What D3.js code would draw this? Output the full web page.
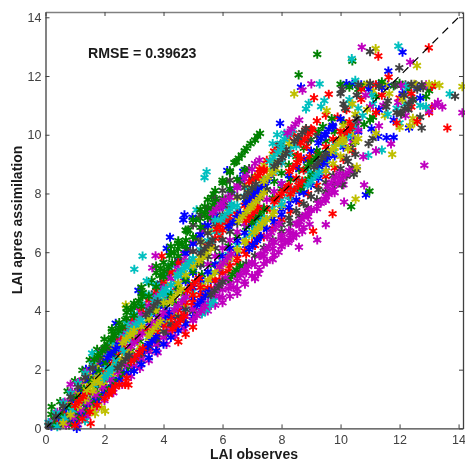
<!DOCTYPE html>
<html><head><meta charset="utf-8">
<script src="https://cdnjs.cloudflare.com/ajax/libs/d3/7.8.5/d3.min.js"></script>
<style>html,body{margin:0;padding:0;background:#fff}svg{display:block}</style>
</head><body><svg id="c" width="465" height="465"></svg>
<script>
// Values: outliers individually, the dense interior as estimated streaks and clumps.
const xTicks=[0,2,4,6,8,10,12,14];
const yTicks=[0,2,4,6,8,10,12,14];
const seriesColors=["#0000ff","#008000","#ff0000","#00bfbf","#bf00bf","#bfbf00","#404040"];
const oneToOne=[[0,0],[14.15,14.15]];
// under-layer streaks
const under1=[[.8,.17],[1.1,.47],[1.4,.77],[1.7,1.08],[2,1.38],[2.3,1.68],[2.6,1.99],[2.9,2.29],[3.2,2.6],[3.5,2.9],[3.8,3.2],[4.1,3.51],[4.4,3.81],[4.7,4.11],[5,4.42],[5.3,4.72],[5.6,5.03],[5.9,5.33],[6.2,5.63],[6.5,5.94],[6.8,6.24],[7.1,6.54],[7.4,6.85],[7.7,7.15],[8,7.46],[8.3,7.76],[8.6,8.06],[8.9,8.37],[9.2,8.67],[9.5,8.97],[9.8,9.28],[10.1,9.58],[10.4,9.88],[.3,.17],[.6,.58],[.9,.97],[1.2,1.36],[1.5,1.76],[1.8,2.16],[2.1,2.55],[2.4,2.95],[2.7,3.35],[3,3.74],[3.3,4.14],[3.6,4.53],[3.9,4.93],[4.2,5.32],[4.5,5.72],[4.8,6.11],[5.1,6.51],[5.4,6.91],[5.7,7.3],[6,7.7],[6.3,8.09],[6.6,8.49],[6.7,8.75]];
const under2=[[.3,.33],[.6,.76],[.9,1.18],[1.2,1.6],[1.5,2.02],[1.8,2.44],[2.1,2.86],[2.4,3.28],[2.7,3.7],[3,4.1],[3.3,4.62],[3.6,5.04],[3.9,5.46],[4.2,5.88],[4.5,6.3],[4.8,6.72],[5.1,7.1],[5.4,7.56],[5.7,7.98],[6,8.36],[.8,.37],[1.1,.69],[1.4,1.01],[1.7,1.34],[2,1.67],[2.3,1.99],[2.6,2.31],[2.9,2.64],[3.2,2.96],[3.5,3.29],[3.8,3.61],[4.1,3.94],[4.4,4.26],[4.7,4.59],[5,4.91],[5.3,5.24],[5.6,5.56],[5.9,5.89],[6.2,6.21],[6.5,6.54],[6.8,6.86],[7.1,7.19],[7.4,7.51],[7.7,7.84],[8,8.16],[8.3,8.48],[8.6,8.81],[8.9,9.13],[9.2,9.46],[9.5,9.78],[9.8,10.11],[10.1,10.43]];
const under3=[[.5,.15],[.8,.5],[1.1,.86],[1.4,1.21],[1.7,1.57],[2,1.93],[2.3,2.28],[2.6,2.64],[2.9,3],[3.2,3.35],[3.5,3.71],[3.8,4.06],[4.1,4.42],[4.4,4.78],[4.7,5.13],[5,5.49],[5.3,5.85],[5.6,6.2],[5.9,6.56],[6.2,6.91],[6.5,7.27],[6.8,7.63],[7.1,7.98],[7.4,8.34],[7.7,8.69],[8,9.05],[8.3,9.4],[8.6,9.76],[8.9,10.12],[9.2,10.47],[9.5,10.67],[1.1,.24],[1.4,.53],[1.7,.83],[2,1.24],[2.3,1.53],[2.6,1.83],[2.9,2.12],[3.2,2.41],[3.5,2.71],[3.8,3],[4.1,3.29],[4.4,3.59],[4.7,3.88],[5,4.17],[5.3,4.47],[5.6,4.76],[5.9,5.05],[6.2,5.35],[6.5,5.64],[6.8,5.93],[7.1,6.23],[7.4,6.52],[7.7,6.81],[8,7.11],[8.3,7.4],[8.6,7.7],[8.9,7.99],[9.2,8.28],[9.5,8.58],[9.8,8.87],[10.1,9.16],[10.4,9.46]];
const under4=[[.5,.33],[.8,.67],[1.1,1.02],[1.4,1.38],[1.7,1.74],[2,2.1],[2.3,2.46],[2.6,2.82],[2.9,3.18],[3.2,3.52],[3.5,3.88],[3.8,4.23],[4.1,4.59],[4.4,4.95],[4.7,5.3],[5,5.66],[5.3,6.01],[5.6,6.37],[5.9,6.73],[6.2,7.08],[6.5,7.44],[6.8,7.79],[7.1,8.15],[7.4,8.5],[7.7,8.86],[8,9.22],[8.3,9.58],[.8,.26],[1.1,.57],[1.4,.87],[1.7,1.21],[2,1.52],[2.3,1.84],[2.6,2.15],[2.9,2.47],[3.2,2.78],[3.5,3.1],[3.8,3.41],[4.1,3.72],[4.4,4.04],[4.7,4.35],[5,4.67],[5.3,4.98],[5.6,5.3],[5.9,5.61],[6.2,5.92],[6.5,6.24],[6.8,6.55],[7.1,6.87],[7.4,7.18],[7.7,7.5],[8,7.81],[8.3,8.12],[8.6,8.44],[8.9,8.75],[9.2,9.07],[9.5,9.38],[9.8,9.7],[10.1,10.01],[10.4,10.33]];
const under5=[[1.1,.13],[1.4,.41],[1.7,.68],[2,.95],[2.3,1.22],[2.6,1.5],[2.9,1.77],[3.2,2.04],[3.5,2.31],[3.8,2.58],[4.1,2.86],[4.4,3.13],[4.7,3.4],[5,3.67],[5.3,3.94],[5.6,4.22],[5.9,4.49],[6.2,4.76],[6.5,5.03],[6.8,5.3],[7.1,5.58],[7.4,5.85],[7.7,6.12],[8,6.4],[8.3,6.67],[8.6,6.94],[8.9,7.21],[9.2,7.48],[9.5,7.76],[9.8,8.03],[10.1,8.3],[.5,.51],[.8,.9],[1.1,1.28],[1.4,1.67],[1.7,2.05],[2,2.45],[2.3,2.84],[2.6,3.22],[2.9,3.61],[3.2,4],[3.5,4.39],[3.8,4.78],[4.1,5.17],[4.4,5.55],[4.7,5.94],[5,6.33],[5.3,6.72],[5.6,7.11],[5.9,7.49],[6.2,7.88],[6.5,8.27],[6.8,8.66],[7.1,9.02]];
const under6=[[.5,.46],[.8,.83],[1.1,1.2],[1.4,1.57],[1.7,1.94],[2,2.31],[2.3,2.68],[2.6,3.05],[2.9,3.42],[3.2,3.79],[3.5,4.16],[3.8,4.53],[4.1,4.9],[4.4,5.27],[4.7,5.64],[5,6.01],[5.3,6.38],[5.6,6.75],[5.9,7.12],[6.2,7.49],[6.5,7.86],[6.8,8.23],[7.1,8.6],[7.4,8.97],[7.7,9.34],[8,9.6],[.8,.35],[1.1,.65],[1.4,.95],[1.7,1.21],[2,1.55],[2.3,1.85],[2.6,2.16],[2.9,2.46],[3.2,2.77],[3.5,3.07],[3.8,3.38],[4.1,3.63],[4.4,3.94],[4.7,4.24],[5,4.55],[5.3,4.85],[5.6,5.16],[5.9,5.46],[6.2,5.76],[6.5,6.06],[6.8,6.37],[7.1,6.67],[7.4,6.98],[7.7,7.28],[8,7.59],[8.3,7.89],[8.6,8.2],[8.9,8.5],[9.2,8.81],[9.5,9.11],[9.8,9.42],[10.1,9.72],[10.4,10.03]];
const under7=[[.3,.2],[.6,.6],[.9,1],[1.2,1.39],[1.5,1.79],[1.8,2.19],[2.1,2.58],[2.4,2.97],[2.7,3.36],[3,3.76],[3.3,4.15],[3.6,4.55],[3.9,4.95],[4.2,5.31],[4.5,5.68],[4.8,6.07],[5.1,6.46],[5.4,6.85],[5.7,7.24],[6,7.62],[6.3,8],[6.6,8.4],[6.9,8.85],[.8,.18],[1.1,.45],[1.4,.72],[1.7,1],[2,1.27],[2.3,1.54],[2.6,1.81],[2.9,2.08],[3.2,2.35],[3.5,2.62],[3.8,2.89],[4.1,3.17],[4.4,3.44],[4.7,3.71],[5,3.98],[5.3,4.25],[5.6,4.52],[5.9,4.8],[6.2,5.07],[6.5,5.34],[6.8,5.61],[7.1,5.88],[7.4,6.15],[7.7,6.42],[8,6.7],[8.3,6.97],[8.6,7.24],[8.9,7.51],[9.2,7.78],[9.5,8.06],[9.8,8.33],[10.1,8.6],[10.4,8.87]];
const blue1=[[3,3.02],[3.25,3.3],[3.5,3.58],[3.75,3.87],[4,4.15],[4.25,4.43],[4.5,4.72],[4.75,5],[5,5.29],[5.25,5.57],[1,.21],[1.25,.45],[1.5,.69],[1.75,.93],[2,1.17],[2.25,1.41],[2.5,1.65],[2.75,1.89],[3,2.13],[4.5,5.64],[4.75,5.96],[5,6.28],[5.25,6.59],[5.5,6.91],[5.75,7.23],[6,7.55],[7.5,6.78],[7.75,7.03],[8,7.28],[8.25,7.53],[8.5,7.78],[8.75,8.03],[9,8.28],[9.25,8.52],[9.5,8.77],[1.37,2.01],[2.38,3.58],[4.22,6.51],[4.11,6.13],[3.15,4.7],[4.71,7.27],[4.67,7.1],[4.98,7.19],[6.16,8.78],[1.06,0],[10.2,11.74],[10.4,11.72],[10.7,11.7],[11.3,11.72],[11.6,11.68],[12.1,12.81],[11.62,12.17],[8.66,11.62],[11.28,9.94],[11.56,9.9],[11.8,9.91],[10.86,7.95],[12.32,10.23]];
const green1=[[.2,.48],[.5,.91],[.75,1.27],[1,1.62],[1.25,1.98],[1.5,2.33],[1.75,2.69],[2,3.04],[2.25,3.3],[2.5,3.6],[2.75,3.95],[3,4.26],[3.25,4.6],[3.5,4.95],[3.75,5.3],[4,5.65],[4.25,6],[4.5,6.3],[4.5,5.87],[4.75,6.2],[5,6.52],[5.25,6.85],[5.5,7.18],[5.75,7.5],[6,7.83],[6.25,8.16],[6.5,8.48],[6.75,8.81],[7.5,8.13],[7.75,8.41],[8,8.69],[8.25,8.97],[8.5,9.26],[8.75,9.54],[9,9.83],[9.25,10.11],[9.4,10.28],[.8,.12],[1.05,.37],[1.3,.62],[1.55,.86],[1.8,1.11],[2.05,1.36],[2.3,1.61],[2.55,1.86],[2.8,2.11],[5.63,7.87],[5.24,7.15],[5.52,7.5],[4.84,6.76],[6.25,8.77],[6.14,8.4],[6.4,9.05],[6.46,9.08],[6.55,9.2],[6.65,9.31],[6.75,9.45],[6.82,9.54],[6.95,9.7],[7.1,9.82],[7.18,9.95],[7.27,10.05],[8.58,12.04],[9.21,12.74],[10.4,12.51],[.21,.74],[10.36,7.55],[10.98,8.08],[10.3,11.62],[10.8,11.68],[11.2,11.3],[11.8,11.66],[12.3,11.55],[12.9,11.3],[11,10.5]];
const red1=[[.4,.15],[.65,.44],[.9,.73],[1.15,1.03],[1.4,1.32],[1.65,1.61],[1.9,1.9],[2.15,2.2],[2.4,2.49],[2.65,2.78],[2.9,3.07],[5,4.3],[5.25,4.54],[5.5,4.79],[5.75,5.04],[6,5.29],[6.25,5.54],[6.5,5.79],[6.75,6.04],[7,6.29],[7.25,6.53],[2.5,3.08],[2.75,3.41],[3,3.73],[3.25,4.04],[3.5,4.36],[3.75,4.68],[4,5],[4.25,5.32],[4.5,5.64],[7,8.51],[7.25,8.82],[7.5,9.13],[7.75,9.44],[7.9,9.62],[2.81,1.48],[2.7,1.5],[2.36,1.42],[2.25,1.3],[2.15,1.15],[1.53,.17],[3.94,5.87],[9.6,11.38],[9.1,11.26],[11.28,12.68],[12.99,12.96],[11.63,11.96],[13.62,10.23],[9.73,7.31],[9.07,6.72],[8.6,9.9],[8.8,10.15],[9,10.2],[8.25,9.9],[8.4,10.05],[9.9,10.6],[10.2,10.85],[10.7,11.2],[11.4,11.35],[12,11.25],[12.4,10.95],[13,10.75],[13.1,10.95]];
const cyan1=[[3,3.27],[3.25,3.55],[3.5,3.82],[3.75,4.09],[4,4.37],[4.25,4.64],[4.5,4.92],[4.75,5.19],[5,5.47],[7,7.87],[7.25,8.16],[7.5,8.45],[7.75,8.75],[8,9.04],[8.25,9.33],[8.5,9.62],[5,5.79],[5.25,6.09],[5.5,6.39],[5.75,6.69],[6,6.99],[6.25,7.29],[6.5,7.59],[6.75,7.89],[2,2.59],[2.25,2.92],[2.5,3.25],[2.75,3.57],[3,3.9],[3.25,4.23],[3.5,4.55],[3.75,4.88],[4,5.21],[4.25,5.54],[3.29,5.87],[3.01,5.42],[3.43,5.02],[1.58,2.56],[1.34,.26],[5.46,8.74],[5.39,8.54],[5.12,7.44],[11.96,13.02],[10.38,12.59],[9.29,11.73],[8.92,11.07],[8.83,10.88],[9.34,10.96],[9.45,11.16],[7.7,9.7],[7.85,10],[8.1,10.05],[10.3,11.2],[10.6,10.9],[11.1,11.05],[11.9,10.9],[12.7,11],[13.7,11.39],[13.05,11.65],[10.5,11.85],[10.94,9.3],[11.4,9.48],[12,10.4]];
const magenta1=[[3,2.13],[3.25,2.37],[3.5,2.61],[3.75,2.85],[4,3.09],[4.25,3.33],[4.5,3.57],[4.75,3.81],[5,4.05],[5.25,4.29],[2.5,2.93],[2.75,3.24],[3,3.55],[3.25,3.86],[3.5,4.17],[3.75,4.48],[4,4.79],[4.25,5.1],[4.5,5.41],[4.75,5.72],[5,6.03],[.15,.2],[.4,.55],[.65,.9],[.9,1.24],[1.15,1.59],[1.4,1.93],[1.65,2.28],[1.9,2.62],[8,6.5],[8.25,6.73],[8.5,6.96],[8.75,7.2],[9,7.43],[9.25,7.66],[9.5,7.9],[9.75,8.13],[10,8.36],[10.2,8.6],[3.73,5.88],[3.62,5.47],[.85,1.5],[8.71,11.52],[9.01,11.73],[10.72,12.98],[12.36,12.47],[14.13,10.75],[12.84,8.96],[11.2,9.45],[11.71,9.69],[10.77,9.25],[10.8,8.29],[10.12,7.71],[9.5,6.94],[9.21,6.42],[8.59,6.17],[8.23,6.33],[7.2,5.26],[6.76,4.91],[6.37,4.8],[7.4,5.6],[7.9,6],[8.4,6.5],[8.95,6.95],[6,4.45],[6.5,4.6],[7.1,5.1],[7.7,5.75],[8.7,6.7],[10.4,9.75],[10.6,10.45],[11,10.95],[11.45,11],[11.95,11.1],[12.4,11.2],[13,10.8],[13.2,11]];
const yellow1=[[5.5,5.05],[5.75,5.31],[6,5.57],[6.25,5.83],[6.5,6.09],[6.75,6.34],[7,6.6],[7.25,6.86],[7.5,7.11],[7.75,7.37],[.2,.11],[.45,.42],[.7,.74],[.95,1.06],[1.2,1.43],[1.45,1.75],[1.7,2.07],[1.95,2.39],[2.2,2.71],[7,8.2],[7.25,8.5],[7.5,8.8],[7.75,9.1],[8,9.4],[8.25,9.7],[2.72,4.2],[2.02,.59],[1.9,.7],[1.57,.63],[1.68,.5],[11.19,12.93],[12.59,12.35],[8.43,11.39],[9.53,10.82],[10.51,7.81],[11.75,9.33],[12.45,10.56],[12.5,10.4],[14.13,11.64],[13.2,11.72],[13.35,11.68],[10.9,11.72],[11.5,11.7],[10.5,10.7],[10.9,10.85],[11.5,10.65],[11.1,11.5],[12,10.25],[9.7,10.3]];
const dark1=[[.5,.09],[.75,.37],[1,.64],[1.25,.92],[1.5,1.19],[1.75,1.47],[2,1.74],[2.25,2.02],[2.5,2.29],[2.75,2.57],[3,2.32],[3.25,2.55],[3.5,2.8],[3.75,3.05],[4,3.3],[4.25,3.55],[4.5,3.8],[4.75,4.05],[5,6.03],[5.25,6.34],[5.5,6.65],[5.75,6.96],[6,7.27],[6.25,7.58],[6.5,7.89],[6.75,8.2],[7,8.51],[5,6.93],[5.25,7.27],[5.5,7.45],[5.75,7.8],[6,8.1],[6.25,8.45],[11,12.83],[11.99,12.28],[13.88,11.31],[12.75,10.23],[11.09,9.88],[10.45,8.65],[10.55,8.8],[10.2,8.6],[10.05,8.3],[10.35,9.55],[10.2,9.2],[10.5,10.3],[12.2,11.7],[12.55,11.7],[12.8,11.6],[10,11.4],[10.1,11.05],[11.6,11.15],[11.9,10.75],[12.3,10.85],[12.7,10.6]];
const blue2=[[.2,.08],[.45,.39],[.7,.7],[.95,1.01],[1.2,1.32],[1.45,1.63],[1.7,1.94],[1.95,2.25],[2.2,2.56],[3,1.95],[3.25,2.18],[3.5,2.41],[3.75,2.64],[4,2.87],[4.25,3.1],[4.5,3.33],[4.75,3.56],[5,3.8],[5.25,4.03],[5.5,4.26],[5,4.8],[5.25,5.06],[5.5,5.33],[5.75,5.59],[6,5.86],[6.25,6.13],[6.5,6.39],[6.75,6.66],[7,6.92],[7.25,7.19],[8,8.34],[8.25,8.62],[8.5,8.89],[8.75,9.17],[9,9.44],[9.25,9.72],[9.5,9.99],[9.75,10.27],[10,10.54],[7.95,10.39],[10.95,11.55],[11.4,11.6],[12.1,11.4],[12.6,11.62],[12.7,11.25],[10.6,10.1],[11.05,10.2],[11.3,10.85],[11.8,10.5]];
const green2=[[.3,.12],[.55,.42],[.8,.72],[1.05,1.03],[1.3,1.33],[1.55,1.63],[1.8,1.93],[2.05,2.23],[2.3,2.53],[3,3.84],[3.25,4.16],[3.5,4.5],[3.75,4.82],[4,5.16],[2,2.75],[2.25,3.08],[2.5,3.42],[2.75,3.75],[4.5,6.39],[4.75,6.75],[5,7.1],[5.25,7.45],[5.5,7.79],[5.75,8.1],[6,8.45],[6.25,8.72],[2.25,3.39],[2.75,4.1],[3.25,4.81],[3.75,5.53],[4.25,6.2],[3,3.12],[3.25,3.4],[3.5,3.68],[3.75,3.96],[4,4.24],[4.25,4.52],[4.5,4.8],[4.75,5.07],[5,5.35],[5.25,5.62],[10,11.72],[10.6,11.55],[11.4,11.8],[12,11.75],[13,11.5],[11.1,10.6],[10.8,10.35],[10.5,9.75],[9.7,10.55],[12.45,11.2]];
const red2=[[1,.1],[1.25,.33],[1.5,.56],[1.75,.79],[2,1.02],[2.25,1.25],[2.5,1.48],[2.75,1.71],[3,3],[3.25,3.29],[3.5,3.4],[3.75,3.27],[4,3.51],[4.25,3.77],[4.5,4.03],[4.75,4.28],[5,4.54],[5.25,4.8],[5.5,6.2],[5.75,6.47],[6,6.75],[6.25,7],[6.5,7.3],[6.75,7.59],[7,7.87],[7.5,7.46],[7.75,7.72],[8,7.99],[8.25,8.26],[8.5,8.52],[8.75,8.79],[9,9.05],[9.25,9.32],[9.5,9.59],[9.75,9.85],[10,10.12],[10.3,10.44],[8.95,9.25],[8.85,9.6],[8.55,9.3],[6.9,8.4],[7.2,8.6],[7.4,8.75],[4.5,2.95],[4.75,3.2],[5,3.45],[11.2,11.7],[10.7,11.55],[12.4,11.4],[13.1,11.65],[11.9,10.4],[12.6,10.45],[11.2,10.75]];
const cyan2=[[.4,.06],[.65,.35],[.9,.63],[1.15,.91],[1.4,1.2],[1.65,1.48],[1.9,1.77],[2.15,2.05],[2.4,2.33],[2.65,2.62],[2.9,2.9],[2.5,2.77],[2.75,3.08],[3,3.38],[3.25,3.68],[3.5,3.98],[3.75,4.28],[4,4.58],[4.25,4.88],[4.5,5.18],[4.75,5.48],[5,5.78],[8,7.63],[8.25,7.89],[8.5,8.15],[8.75,8.4],[9,8.66],[9.25,8.92],[9.5,9.17],[9.75,9.43],[10,9.69],[10.25,9.95],[10.5,10.2],[.1,.2],[.35,.52],[.6,.87],[.85,1.2],[1.1,1.53],[1.35,1.87],[1.6,2.2],[1.85,2.54],[5.75,7.1],[6.3,7.65],[6.9,8.1],[10.35,11.05],[11.05,11.35],[11.6,10.7],[12.2,11.05],[12.2,11.65],[10.75,10.65],[12.9,10.95]];
const magenta2=[[5.5,4.26],[5.75,4.49],[6,4.72],[6.25,4.95],[6.5,5.18],[6.75,5.41],[7,5.65],[7.25,5.88],[7.5,6.11],[7.75,6.34],[8,6.57],[.7,.11],[.95,.37],[1.2,.63],[1.45,.88],[1.7,1.14],[1.95,1.4],[2.2,1.66],[2.45,1.91],[2.7,2.17],[2.95,2.43],[5.5,5.59],[5.75,5.86],[6,6.14],[6.25,6.41],[6.5,6.69],[6.75,6.97],[7,7.24],[7.25,7.52],[7.5,7.79],[7.75,8.07],[8,8.34],[6,7.55],[6.25,7.87],[6.5,8.19],[6.75,8.51],[7,8.82],[7.25,9.14],[5.5,4],[5.75,4.2],[6,4.28],[6.25,4.5],[6.5,4.75],[6.75,5],[7,5.2],[7.25,5.4],[7.5,5.7],[7.75,5.9],[8,6.2],[8.25,6.4],[8.5,6.6],[8.75,6.85],[10.6,10.15],[10.85,11.35],[11.3,10.3],[12.05,11.68],[12.9,11.7],[13.3,11.1],[12.2,10.65],[13.45,10.95]];
const yellow2=[[.6,.18],[.85,.46],[1.1,.75],[1.35,.99],[1.6,1.27],[1.85,1.55],[2.1,1.83],[2.35,2.1],[2.6,2.37],[2.85,2.66],[3,3.19],[3.25,3.46],[3.5,3.73],[3.75,4],[4,4.27],[4.5,4.94],[4.75,5.23],[5,5.53],[5.25,5.82],[5.5,6.12],[9.5,8.77],[9.75,9.02],[10,9.27],[10.25,9.52],[10.5,9.77],[10.6,9.87],[10.55,8.9],[10.1,9.8],[10.1,10.3],[10.4,11.05],[11.2,10.05],[11.65,11.4],[12.5,11.72],[13,11.72],[12.35,10.3],[12.1,11.2]];
const dark2=[[.1,.1],[.35,.42],[.6,.76],[.85,1.08],[1.1,1.41],[1.35,1.74],[1.6,2.07],[1.85,2.4],[2.1,2.72],[8,6.93],[8.25,7.17],[8.5,7.41],[8.75,7.65],[9,7.89],[9.25,8.13],[9.5,8.37],[9.75,8.61],[10,8.85],[10.25,9.09],[10.5,9.33],[5.25,5.57],[5.5,5.85],[5.75,6.14],[6,6.42],[6.25,6.7],[6.5,6.99],[6.75,7.27],[7,7.55],[7.25,7.84],[7.5,8.12],[8.9,9.8],[9.2,9.95],[7.95,9.65],[8.15,9.5],[10.55,10.55],[11.3,11.65],[11.85,11.7],[12.6,11.55],[11.55,10.95],[12.05,10.7],[10.3,10.2],[10.95,9.7],[12.15,11.35]];
// top-layer clumps seen as thick blobs in the reference
const clumpBlue=[[3.34,2.68],[3.47,2.82],[3.61,2.98],[3.74,3.12],[3.8,3.53],[3.93,3.67],[4.07,3.83],[4.2,3.97],[5.15,4.21],[5.28,4.35],[5.42,4.51],[5.55,4.65],[9.27,8.92],[9.4,9.06],[9.54,9.22],[9.67,9.36],[9.33,9.88],[9.46,10.02],[9.6,10.18],[9.73,10.32],[7.18,8.07],[7.31,8.21],[7.45,8.37],[7.58,8.51],[6.79,7.67],[6.92,7.81],[7.06,7.97],[7.19,8.11],[6.2,6.88],[6.33,7.02],[6.47,7.18],[6.6,7.32],[2.1,2.4],[2.23,2.54],[2.37,2.7],[2.5,2.84],[6.9,6.1],[7.03,6.24],[7.17,6.4],[7.3,6.54]];
const clumpGreen=[[3.89,5.2],[4.02,5.34],[4.16,5.5],[4.29,5.64],[2.89,4.04],[3.02,4.18],[3.16,4.34],[3.29,4.48],[2.21,3.02],[2.34,3.16],[2.48,3.32],[2.61,3.46],[1.65,2.34],[1.78,2.48],[1.92,2.64],[2.05,2.78],[4.36,5.97],[4.49,6.11],[4.63,6.27],[4.76,6.41],[8.88,8.92],[9.01,9.06],[9.15,9.22],[9.28,9.36],[8.65,8.18],[8.78,8.32],[8.92,8.48],[9.05,8.62],[6.2,5.1],[6.33,5.24],[6.47,5.4],[6.6,5.54],[7,7],[7.13,7.14],[7.27,7.3],[7.4,7.44],[5.4,7.3],[5.53,7.44],[5.67,7.6],[5.8,7.74]];
const clumpRed=[[2.9,2.28],[3.03,2.42],[3.17,2.58],[3.3,2.72],[4.3,3.38],[4.43,3.52],[4.57,3.68],[4.7,3.82],[4.8,4.68],[4.93,4.82],[5.07,4.98],[5.2,5.12],[5.8,6.78],[5.93,6.92],[6.07,7.08],[6.2,7.22],[6.8,7.08],[6.93,7.22],[7.07,7.38],[7.2,7.52],[7,8.38],[7.13,8.52],[7.27,8.68],[7.4,8.82],[7.8,7.78],[7.93,7.92],[8.07,8.08],[8.2,8.22],[8.26,8.75],[8.39,8.89],[8.53,9.05],[8.66,9.19],[8.65,9.72],[8.78,9.86],[8.92,10.02],[9.05,10.16],[9.95,9.83],[10.08,9.97],[10.22,10.13],[10.35,10.27],[8.3,7.98],[8.43,8.12],[8.57,8.28],[8.7,8.42],[1,.78],[1.13,.92],[1.27,1.08],[1.4,1.22]];
const clumpCyan=[[7.97,9.71],[8.1,9.85],[8.24,10.01],[8.37,10.15],[8.88,8.28],[9.01,8.42],[9.15,8.58],[9.28,8.72],[7,6.68],[7.13,6.82],[7.27,6.98],[7.4,7.12],[2.78,3.24],[2.91,3.38],[3.05,3.54],[3.18,3.68],[4.47,5.23],[4.6,5.37],[4.74,5.53],[4.87,5.67],[1.99,1.71],[2.12,1.85],[2.26,2.01],[2.39,2.15],[3.68,4.32],[3.81,4.46],[3.95,4.62],[4.08,4.76],[5.94,7.1],[6.07,7.24],[6.21,7.4],[6.34,7.54],[5.3,3.9],[5.43,4.04],[5.57,4.2],[5.7,4.34],[7.6,9.1],[7.73,9.24],[7.87,9.4],[8,9.54]];
const clumpMagenta=[[9.56,8.24],[9.69,8.38],[9.83,8.54],[9.96,8.68],[9.9,8.35],[10.03,8.49],[10.17,8.65],[10.3,8.79],[9.33,7.67],[9.46,7.81],[9.6,7.97],[9.73,8.11],[8.54,6.98],[8.67,7.12],[8.81,7.28],[8.94,7.42],[7.52,6.53],[7.65,6.67],[7.79,6.83],[7.92,6.97],[8.2,10.06],[8.33,10.2],[8.47,10.36],[8.6,10.5],[5.66,7.33],[5.79,7.47],[5.93,7.63],[6.06,7.77],[2.89,2.79],[3.02,2.93],[3.16,3.09],[3.29,3.23],[4.36,4.04],[4.49,4.18],[4.63,4.34],[4.76,4.48],[5.7,4.68],[5.83,4.82],[5.97,4.98],[6.1,5.12],[6.6,5.22],[6.73,5.36],[6.87,5.52],[7,5.66],[7.3,5.9],[7.43,6.04],[7.57,6.2],[7.7,6.34],[8,6.2],[8.13,6.34],[8.27,6.5],[8.4,6.64],[5,3.7],[5.13,3.84],[5.27,4],[5.4,4.14],[5.9,5.5],[6.03,5.64],[6.17,5.8],[6.3,5.94],[3.6,3.5],[3.73,3.64],[3.87,3.8],[4,3.94]];
const clumpYellow=[[9.67,9.43],[9.8,9.57],[9.94,9.73],[10.07,9.87],[7.4,8.41],[7.53,8.55],[7.67,8.71],[7.8,8.85],[7,7.58],[7.13,7.72],[7.27,7.88],[7.4,8.02],[6.55,7.08],[6.68,7.22],[6.82,7.38],[6.95,7.52],[7.07,6.68],[7.2,6.82],[7.34,6.98],[7.47,7.12],[2.6,2.9],[2.73,3.04],[2.87,3.2],[3,3.34],[4.2,4.3],[4.33,4.44],[4.47,4.6],[4.6,4.74],[5.2,5.7],[5.33,5.84],[5.47,6],[5.6,6.14],[3.5,3.2],[3.63,3.34],[3.77,3.5],[3.9,3.64],[1.4,1.3],[1.53,1.44],[1.67,1.6],[1.8,1.74]];
const clumpDark=[[8.43,9.77],[8.56,9.91],[8.7,10.07],[8.83,10.21],[7.75,8.92],[7.88,9.06],[8.02,9.22],[8.15,9.36],[3.4,3.87],[3.53,4.01],[3.67,4.17],[3.8,4.31],[2.44,2.05],[2.57,2.19],[2.71,2.35],[2.84,2.49],[5.26,5.97],[5.39,6.11],[5.53,6.27],[5.66,6.41],[5.6,4.55],[5.73,4.69],[5.87,4.85],[6,4.99],[6.73,7.88],[6.86,8.02],[7,8.18],[7.13,8.32],[12.04,10.74],[12.17,10.88],[12.31,11.04],[12.44,11.18],[9.1,8.9],[9.23,9.04],[9.37,9.2],[9.5,9.34],[10.6,11.7],[11,11.75],[12.4,11.72],[12.75,11.7],[10.05,11.55],[10.55,11.35],[10.15,10.9]];
const seriesList=[under1,under2,under3,under4,under5,under6,under7,blue1,green1,red1,cyan1,magenta1,yellow1,dark1,blue2,green2,red2,cyan2,magenta2,yellow2,dark2,clumpBlue,clumpGreen,clumpRed,clumpCyan,clumpMagenta,clumpYellow,clumpDark];
const xDomain=[0,14.15],yDomain=[0,14.18];
const rmseText="RMSE = 0.39623",xTitle="LAI observes",yTitle="LAI apres assimilation";

const F="'Liberation Sans',Arial,sans-serif";
const svg=d3.select("#c");
const x=d3.scaleLinear().domain(xDomain).range([45.5,463]);
const y=d3.scaleLinear().domain(yDomain).range([428.4,12]);
const star={draw(ctx,size){const r=Math.sqrt(size);
  [90,30,150].forEach(a=>{const t=a*Math.PI/180,c=Math.cos(t)*r,s=Math.sin(t)*r;ctx.moveTo(-c,-s);ctx.lineTo(c,s);});}};
const symbol=d3.symbol().type(star).size(21);
const marks=svg.append("g").style("filter","blur(0.35px)");
seriesList.forEach((pts,i)=>{
  marks.append("g").attr("stroke",seriesColors[i%7]).attr("stroke-width",1.9).attr("fill","none")
   .selectAll("path").data(pts).join("path").attr("d",symbol)
   .attr("transform",d=>`translate(${x(d[0])},${y(d[1])})`);
});
const line=d3.line().x(d=>x(d[0])).y(d=>y(d[1]));
svg.append("path").attr("d",line(oneToOne)).attr("stroke","#000").attr("stroke-width",1.2).attr("stroke-dasharray","8 6").attr("fill","none");
function style(g){
  g.selectAll(".domain").attr("stroke","#404040").attr("stroke-width",1.3);
  g.selectAll(".tick line").attr("stroke","#404040");
  g.selectAll("text").attr("font-family",F).attr("font-size",12.5).attr("fill","#404040");
  return g;
}
style(svg.append("g").attr("transform","translate(0,428.4)").call(d3.axisBottom(x).tickValues(xTicks).tickSize(-4).tickSizeOuter(0).tickPadding(7).tickFormat(d3.format("d"))));
style(svg.append("g").attr("transform","translate(45.5,0)").call(d3.axisLeft(y).tickValues(yTicks).tickSize(-4).tickSizeOuter(0).tickPadding(4).tickFormat(d3.format("d"))));
const top_=style(svg.append("g").attr("transform","translate(0,12)").call(d3.axisTop(x).tickValues(xTicks).tickSize(-4).tickSizeOuter(0).tickFormat("")));
top_.selectAll(".domain").attr("stroke","#808080").attr("stroke-width",1.6);
style(svg.append("g").attr("transform","translate(463,0)").call(d3.axisRight(y).tickValues(yTicks).tickSize(-4).tickSizeOuter(0).tickFormat("")));
svg.append("text").attr("x",88).attr("y",58).attr("font-family",F).attr("font-weight","bold").attr("font-size",14.2).attr("fill","#1a1a1a").text(rmseText);
svg.append("text").attr("x",254).attr("y",459).attr("text-anchor","middle").attr("font-family",F).attr("font-weight","bold").attr("font-size",14).attr("fill","#1a1a1a").text(xTitle);
svg.append("text").attr("transform","translate(22,220) rotate(-90)").attr("text-anchor","middle").attr("font-family",F).attr("font-weight","bold").attr("font-size",14).attr("fill","#1a1a1a").text(yTitle);
</script></body></html>
